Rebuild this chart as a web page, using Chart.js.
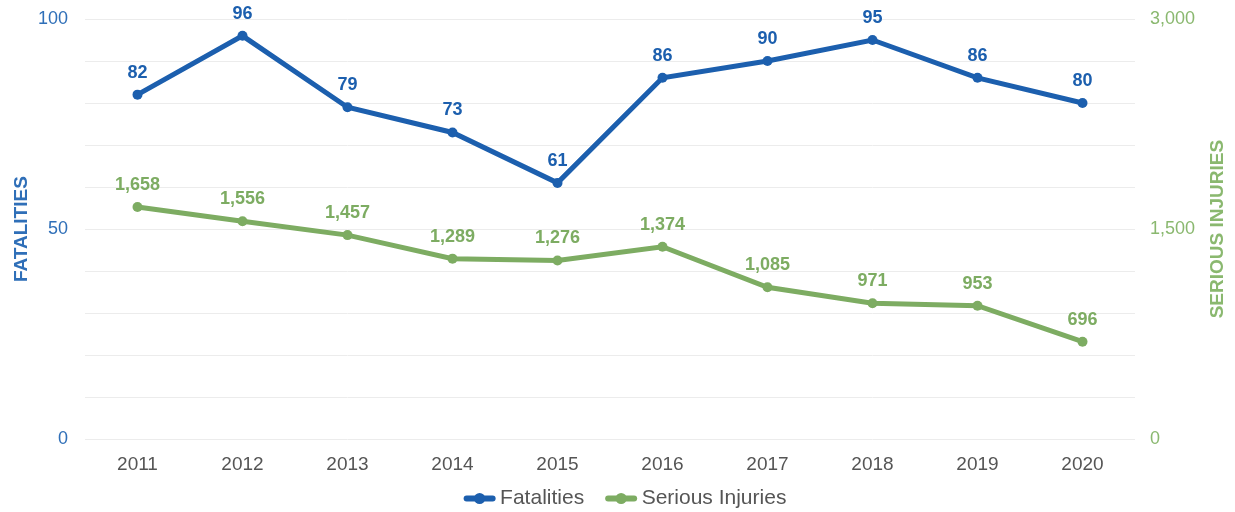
<!DOCTYPE html>
<html><head><meta charset="utf-8">
<script src="https://cdn.jsdelivr.net/npm/chart.js@4/dist/chart.umd.min.js"></script>
<style>html,body{margin:0;padding:0;background:#fff}#wrap{width:1235px;height:512px}</style>
</head><body><div id="wrap"><canvas id="c" width="1235" height="512"></canvas></div>
<script>
const categories = ['2011','2012','2013','2014','2015','2016','2017','2018','2019','2020'];
const fatalities = [82,96,79,73,61,86,90,95,86,80];
const seriousInjuries = [1658,1556,1457,1289,1276,1374,1085,971,953,696];
const leftTicks = [0,50,100];
const rightTicks = [0,1500,3000];

const BLUE = '#1c5fae';
const GREEN = '#7dac62';
const BLUE_TXT = '#2f6fb8';
const GREEN_TXT = '#8ab86f';
const FONT = 'Liberation Sans, Arial, sans-serif';

const labelPlugin = {
  id: 'valLabels',
  afterDatasetsDraw(chart) {
    const ctx = chart.ctx;
    chart.data.datasets.forEach((ds, i) => {
      const meta = chart.getDatasetMeta(i);
      ctx.save();
      ctx.font = 'bold 18px ' + FONT;
      ctx.fillStyle = ds.borderColor;
      ctx.textAlign = 'center';
      ctx.textBaseline = 'alphabetic';
      meta.data.forEach((pt, j) => {
        const v = ds.data[j];
        ctx.fillText(v.toLocaleString('en-US'), pt.x, pt.y - 17);
      });
      ctx.restore();
    });
  },
  afterDraw(chart) {
    const ctx = chart.ctx;
    const lg = chart.legend;
    if (lg && lg.legendHitBoxes) {
      lg.legendHitBoxes.forEach((hb, i) => {
        const ds = chart.data.datasets[i];
        const cy = hb.top + hb.height / 2;
        ctx.save();
        ctx.strokeStyle = ds.borderColor;
        ctx.fillStyle = ds.borderColor;
        ctx.lineWidth = 6;
        ctx.lineCap = 'round';
        ctx.beginPath();
        ctx.moveTo(hb.left + 18, cy);
        ctx.lineTo(hb.left + 44, cy);
        ctx.stroke();
        ctx.beginPath();
        ctx.arc(hb.left + 31, cy, 5.5, 0, Math.PI * 2);
        ctx.fill();
        ctx.restore();
      });
    }
    // right axis title, reading bottom-to-top
    const a = chart.chartArea;
    ctx.save();
    ctx.font = 'bold 19px ' + FONT;
    ctx.fillStyle = GREEN_TXT;
    ctx.textAlign = 'center';
    ctx.textBaseline = 'middle';
    ctx.translate(1218, (a.top + a.bottom) / 2);
    ctx.rotate(-Math.PI / 2);
    ctx.fillText('SERIOUS INJURIES', 0, 0);
    ctx.restore();
  }
};

new Chart(document.getElementById('c'), {
  type: 'line',
  data: {
    labels: categories,
    datasets: [
      { label: 'Fatalities', data: fatalities, yAxisID: 'y', borderColor: BLUE, backgroundColor: BLUE,
        borderWidth: 5, pointRadius: 5, pointBackgroundColor: BLUE, pointBorderWidth: 0, tension: 0 },
      { label: 'Serious Injuries', data: seriousInjuries, yAxisID: 'y2', borderColor: GREEN, backgroundColor: GREEN,
        borderWidth: 5, pointRadius: 5, pointBackgroundColor: GREEN, pointBorderWidth: 0, tension: 0 }
    ]
  },
  options: {
    responsive: false,
    animation: false,
    layout: { padding: { left: 0, right: 0, top: 19, bottom: -7 } },
    plugins: {
      legend: {
        position: 'bottom',
        labels: {
          boxWidth: 41, boxHeight: 10, color: '#555', font: { size: 21, family: FONT }, padding: 6,
          generateLabels(chart) {
            return chart.data.datasets.map((ds, i) => ({
              text: ds.label, fillStyle: 'rgba(0,0,0,0)', strokeStyle: 'rgba(0,0,0,0)', lineWidth: 0,
              hidden: false, datasetIndex: i, fontColor: '#555'
            }));
          }
        }
      },
      tooltip: { enabled: false }
    },
    scales: {
      x: {
        offset: true,
        grid: { display: false },
        border: { display: false },
        ticks: { color: '#555', font: { size: 19, family: FONT }, padding: 6 }
      },
      y: {
        position: 'left', min: 0, max: 100,
        border: { display: false },
        grid: { color: '#ececec', drawTicks: false },
        ticks: { stepSize: 10, color: BLUE_TXT, font: { size: 18, family: FONT }, padding: 17,
          callback: v => leftTicks.includes(v) ? v.toLocaleString('en-US') : '' },
        title: { display: true, text: 'FATALITIES', color: BLUE_TXT, font: { size: 19, weight: 'bold', family: FONT }, padding: { top: 10, bottom: 0 } },
        afterFit(scale) { scale.width = 85; scale.paddingTop = 0; scale.paddingBottom = 0; }
      },
      y2: {
        position: 'right', min: 0, max: 3000,
        border: { display: false },
        grid: { drawOnChartArea: false, drawTicks: false },
        ticks: { stepSize: 300, color: GREEN_TXT, font: { size: 18, family: FONT }, padding: 15,
          callback: v => rightTicks.includes(v) ? v.toLocaleString('en-US') : '' },
        afterFit(scale) { scale.width = 100; scale.paddingTop = 0; scale.paddingBottom = 0; }
      }
    }
  },
  plugins: [labelPlugin]
});
</script></body></html>
